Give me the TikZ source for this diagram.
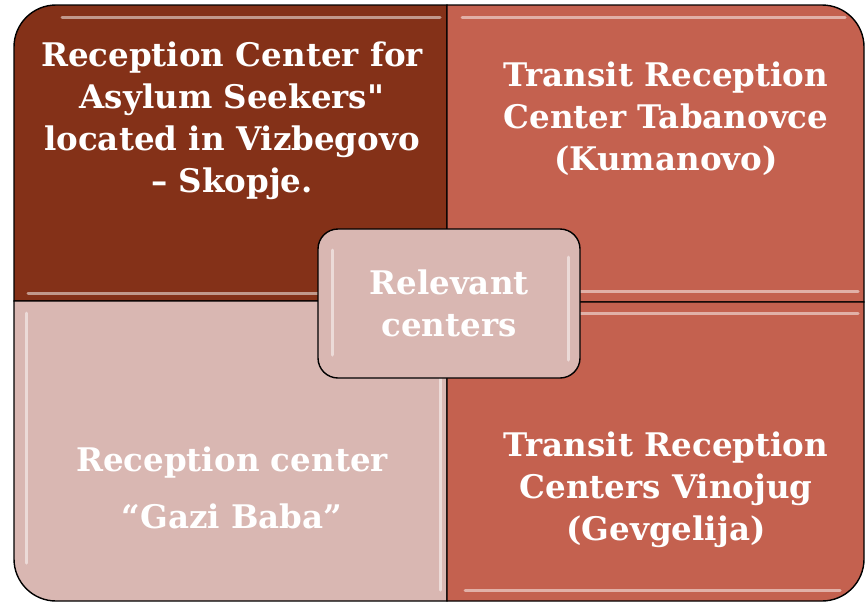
\documentclass[tikz,border=0pt]{standalone}
\usepackage{fontspec}
\setmainfont{DejaVu Serif}
\newfontfamily\dqfont{DejaVu Serif}
\definecolor{darkbrown}{HTML}{843118}
\definecolor{terra}{HTML}{C4614F}
\definecolor{rosepale}{HTML}{D9B7B2}
\begin{document}
\begin{tikzpicture}[x=1pt,y=-1pt,
  quad/.style={draw=black,line width=1.4pt},
  shine/.style={draw=white,opacity=0.5,line width=3pt,line cap=round},
  label/.style={text=white,font=\bfseries\fontsize{32.5}{42}\selectfont,align=center,inner sep=0pt}]
\useasboundingbox (0,0) rectangle (866,605);
% quadrants
\path[quad,fill=darkbrown] (447,301) -- (447,5) [rounded corners=42pt] -- (14,5) [sharp corners] -- (14,301) -- cycle;
\path[quad,fill=terra] (447,302) -- (447,5) [rounded corners=42pt] -- (864,5) [sharp corners] -- (864,302) -- cycle;
\path[quad,fill=rosepale] (447,301) -- (14,301) [rounded corners=42pt] -- (14,601) [sharp corners] -- (447,601) -- cycle;
\path[quad,fill=terra] (447,302) -- (864,302) [rounded corners=42pt] -- (864,601) [sharp corners] -- (447,601) -- cycle;
% shines
\draw[shine] (62,17) -- (440,17);
\draw[shine] (28,293) -- (440,293);
\draw[shine] (462,17) -- (845,17);
\draw[shine] (462,291) -- (858,291);
\draw[shine] (26,313) -- (26,563);
\draw[shine] (440,313) -- (440,590);
\draw[shine] (458,313) -- (858,313);
\draw[shine] (465,590) -- (840,590);
% centre box
\path[quad,fill=rosepale,rounded corners=20pt] (318,229) rectangle (580,378);
\draw[shine] (332,250) -- (332,355);
\draw[shine] (568,257) -- (568,360);
% texts
\node[label] (tl) at (232,121) {Reception Center for\\Asylum Seekers{\dqfont\bfseries"}\\located in Vizbegovo\\– Skopje.};
\node[label] (tr) at (666,119) {Transit Reception\\Center Tabanovce\\(Kumanovo)};
\node[label,font=\bfseries\fontsize{32.5}{57}\selectfont] (bl) at (232,488) {Reception center\\“Gazi Baba”};
\node[label] (br) at (666,490) {Transit Reception\\Centers Vinojug\\(Gevgelija)};
\node[label] (c) at (449,303) {Relevant\\centers};
\end{tikzpicture}
\end{document}
